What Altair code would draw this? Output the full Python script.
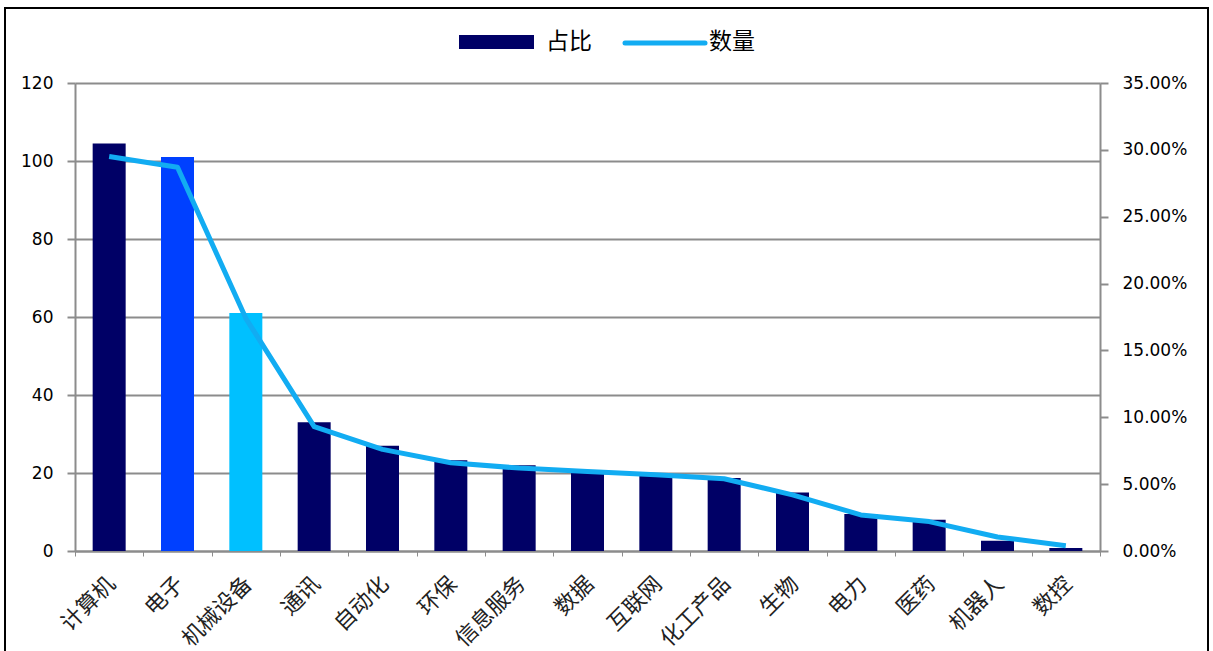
import altair as alt
import pandas as pd

categories = ['计算机', '电子', '机械设备', '通讯', '自动化', '环保', '信息服务', '数据',
              '互联网', '化工产品', '生物', '电力', '医药', '机器人', '数控']
bar_values = [104.5, 101, 61, 33, 27, 23.3, 22, 20, 19.7, 18.7, 15, 9.5, 8, 2.6, 0.8]
line_values = [0.295, 0.287, 0.174, 0.093, 0.076, 0.066, 0.062, 0.0595, 0.057, 0.054,
               0.042, 0.027, 0.022, 0.0105, 0.004]
left_ticks = [0, 20, 40, 60, 80, 100, 120]
right_ticks = [0, 0.05, 0.10, 0.15, 0.20, 0.25, 0.30, 0.35]
legend_labels = ['占比', '数量']

df = pd.DataFrame({'cat': categories, 'bar': bar_values, 'line': line_values})

navy = '#000066'
bar_colors = [navy, '#0040FF', '#00C0FF'] + [navy] * 12
line_color = '#12ACF2'
grid_color = '#8C8C8C'
num_font = 'DejaVu Sans'
cjk_font = 'Noto Sans CJK SC'

xenc = alt.X('cat:N', sort=categories, title=None,
             scale=alt.Scale(paddingInner=0.0, paddingOuter=0.0),
             axis=alt.Axis(labelAngle=-45, labelAlign='right', labelBaseline='middle',
                           labelFont=cjk_font, labelFontSize=22, labelColor='#222',
                           tickBand='extent', tickSize=5, tickColor=grid_color,
                           domainColor=grid_color, domainWidth=2, grid=False,
                           labelPadding=24, labelOffset=2))

bars = alt.Chart(df).mark_bar(size=33).encode(
    x=xenc,
    y=alt.Y('bar:Q', title=None,
            scale=alt.Scale(domain=[0, 120], nice=False),
            axis=alt.Axis(values=left_ticks, grid=True, gridColor=grid_color, gridWidth=2,
                          tickColor=grid_color, tickSize=8, tickWidth=2,
                          domainColor=grid_color, domainWidth=2,
                          labelFont=num_font, labelFontSize=17, labelColor='#000',
                          labelPadding=14)),
    color=alt.Color('cat:N', sort=categories, legend=None,
                    scale=alt.Scale(domain=categories, range=bar_colors)),
)

line = alt.Chart(df).mark_line(color=line_color, strokeWidth=5, strokeJoin='round').encode(
    x=alt.X('cat:N', sort=categories),
    y=alt.Y('line:Q', title=None,
            scale=alt.Scale(domain=[0, 0.35], nice=False),
            axis=alt.Axis(orient='right', values=right_ticks, format='.2%', grid=False,
                          tickColor=grid_color, tickSize=8, tickWidth=2,
                          domainColor=grid_color, domainWidth=2,
                          labelFont=num_font, labelFontSize=17, labelColor='#000',
                          labelPadding=14)),
)

leg_df = pd.DataFrame({'label': legend_labels})
first = alt.datum.label == legend_labels[0]
second = alt.datum.label == legend_labels[1]

leg_rect = alt.Chart(leg_df).transform_filter(first).mark_rect(
    color=navy).encode(x=alt.value(384), x2=alt.value(459), y=alt.value(-48), y2=alt.value(-34))
leg_rule = alt.Chart(leg_df).transform_filter(second).mark_rule(
    color=line_color, strokeWidth=5, strokeCap='round').encode(
    x=alt.value(550), x2=alt.value(630), y=alt.value(-40))
text_style = dict(font=cjk_font, fontSize=23, align='left',
                  baseline='middle', color='#000')
leg_text1 = alt.Chart(leg_df).transform_filter(first).mark_text(**text_style).encode(
    x=alt.value(471), y=alt.value(-41), text='label:N')
leg_text2 = alt.Chart(leg_df).transform_filter(second).mark_text(**text_style).encode(
    x=alt.value(634), y=alt.value(-41), text='label:N')

frame = alt.Chart(leg_df).transform_filter(first).mark_rect(
    fill=None, stroke='#000', strokeWidth=2).encode(
    x=alt.value(-70), x2=alt.value(1133), y=alt.value(-75), y2=alt.value(700))

chart = alt.layer(bars, line, leg_rect, leg_rule, leg_text1, leg_text2, frame).resolve_scale(
    y='independent', color='independent'
).properties(
    width=1025, height=468,
    autosize=alt.AutoSizeParams(type='none'),
    padding={'left': 75, 'top': 83, 'right': 113, 'bottom': 100},
    background='white',
).configure_view(stroke=None)

chart.save('out.html', embed_options={'renderer': 'svg', 'actions': False})
